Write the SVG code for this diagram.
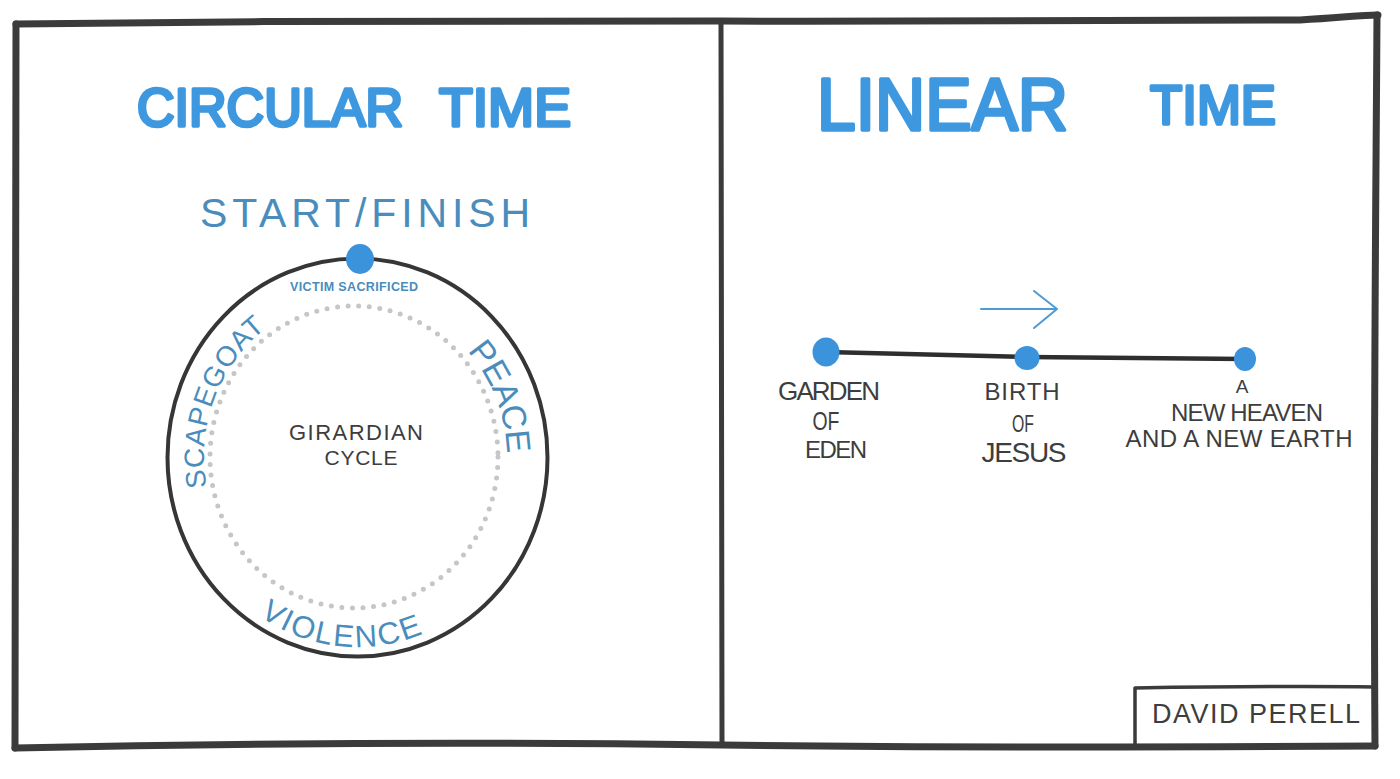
<svg xmlns="http://www.w3.org/2000/svg" width="1400" height="779" viewBox="0 0 1400 779">
  <style>
    .frame { fill: none; stroke: #3b3b3b; stroke-linecap: round; stroke-linejoin: round; }
    .ttl { font-family: "Liberation Sans", Arial, sans-serif; font-weight: normal; fill: #3e98df; stroke: #3e98df; stroke-width: 3.5; stroke-linejoin: round; stroke-linecap: round; }
    .blue { font-family: "Liberation Sans", Arial, sans-serif; fill: #4a8cbc; }
    .dark { font-family: "Liberation Sans", Arial, sans-serif; fill: #3d3d3d; text-anchor: middle; }
    .dot { fill: #3b93db; }
  </style>
  <defs>
    <path id="arcTop" d="M224.5,537 A153,160 0 1 1 489.5,537"/>
    <path id="arcPeace" d="M227,537 A150,158 0 1 1 487,537"/>
    <path id="arcBottom" d="M189.7,522 A178,190 0 0 0 524.3,522"/>
  </defs>
  <rect x="0" y="0" width="1400" height="779" fill="#ffffff"/>

  <g id="frame">
    <path class="frame" stroke-width="7" d="M16,24 C250,21 500,20 720,21 C950,22 1200,22 1300,20 C1340,18 1360,15 1378,15"/>
    <path class="frame" stroke-width="7" d="M16,24 L15,748"/>
    <path class="frame" stroke-width="7" d="M1377,15 C1376,200 1373,450 1375,746"/>
    <path class="frame" stroke-width="7" d="M15,748 C250,743 500,742 722,745 C950,748 1200,747 1375,746"/>
    <path class="frame" stroke-width="5" d="M721,21 L722,745"/>
  </g>

  <g id="credit">
    <path class="frame" stroke-width="3.5" d="M1135,746 L1135,688 C1200,687 1300,686 1375,687"/>
    <text class="dark" x="1256" y="723" font-size="27" textLength="208">DAVID PERELL</text>
  </g>

  <g id="circular-time">
    <text class="ttl" x="137" y="126" font-size="54" textLength="266" lengthAdjust="spacingAndGlyphs">CIRCULAR</text>
    <text class="ttl" x="439" y="126" font-size="54" textLength="132" lengthAdjust="spacingAndGlyphs">TIME</text>
    <text class="blue" x="365" y="227" font-size="41" text-anchor="middle" textLength="330">START/FINISH</text>
  </g>

  <g id="cycle">
    <ellipse cx="357.5" cy="457.5" rx="190" ry="199" fill="none" stroke="#363636" stroke-width="4"/>
    <ellipse cx="354" cy="457" rx="144" ry="151" fill="none" stroke="#c6c6c6" stroke-width="5" stroke-linecap="round" stroke-dasharray="0 10.6"/>
    <ellipse class="dot" cx="360" cy="259" rx="14" ry="15"/>
    <text class="blue" x="354" y="291" font-size="12.5" font-weight="bold" text-anchor="middle" textLength="128" fill="#3b93db">VICTIM SACRIFICED</text>
    <text class="dark" x="356" y="440" font-size="22" textLength="134">GIRARDIAN</text>
    <text class="dark" x="361" y="465" font-size="21" textLength="73">CYCLE</text>
    <text class="blue" font-size="28" text-anchor="middle"><textPath href="#arcTop" startOffset="142" textLength="178">SCAPEGOAT</textPath></text>
    <text class="blue" font-size="34" text-anchor="middle"><textPath href="#arcPeace" startOffset="505" textLength="112">PEACE</textPath></text>
    <text class="blue" font-size="31" text-anchor="middle"><textPath href="#arcBottom" startOffset="205" textLength="172">VIOLENCE</textPath></text>
  </g>

  <g id="linear-time">
    <text class="ttl" x="817" y="130" font-size="74" textLength="251" lengthAdjust="spacingAndGlyphs" stroke-width="2.5">LINEAR</text>
    <text class="ttl" x="1150" y="124" font-size="56" textLength="126" lengthAdjust="spacingAndGlyphs">TIME</text>
  </g>

  <g id="connectors">
    <path d="M826,352 L1027,357 L1245,359" fill="none" stroke="#2e2e2e" stroke-width="4.5" stroke-linecap="round"/>
    <path d="M981,309 L1056,309 M1034,291 L1057,309 L1034,328" fill="none" stroke="#4c9ad6" stroke-width="2" stroke-linecap="round" stroke-linejoin="round"/>
  </g>

  <g id="garden-of-eden">
    <ellipse class="dot" cx="826" cy="352" rx="13.5" ry="14.5"/>
    <text class="dark" x="829" y="400" font-size="26" textLength="102">GARDEN</text>
    <text class="dark" x="826" y="430" font-size="25" textLength="27" lengthAdjust="spacingAndGlyphs">OF</text>
    <text class="dark" x="836" y="458" font-size="24" textLength="62">EDEN</text>
  </g>

  <g id="birth-of-jesus">
    <ellipse class="dot" cx="1027" cy="358" rx="12.5" ry="12"/>
    <text class="dark" x="1022" y="400" font-size="24" textLength="75">BIRTH</text>
    <text class="dark" x="1023" y="432" font-size="23" textLength="22" lengthAdjust="spacingAndGlyphs">OF</text>
    <text class="dark" x="1024" y="462" font-size="28" textLength="85">JESUS</text>
  </g>

  <g id="new-heaven">
    <ellipse class="dot" cx="1245" cy="359" rx="11" ry="12"/>
    <text class="dark" x="1242" y="393" font-size="19">A</text>
    <text class="dark" x="1247" y="421" font-size="24" textLength="152">NEW HEAVEN</text>
    <text class="dark" x="1239" y="447" font-size="24" textLength="227">AND A NEW EARTH</text>
  </g>
</svg>
